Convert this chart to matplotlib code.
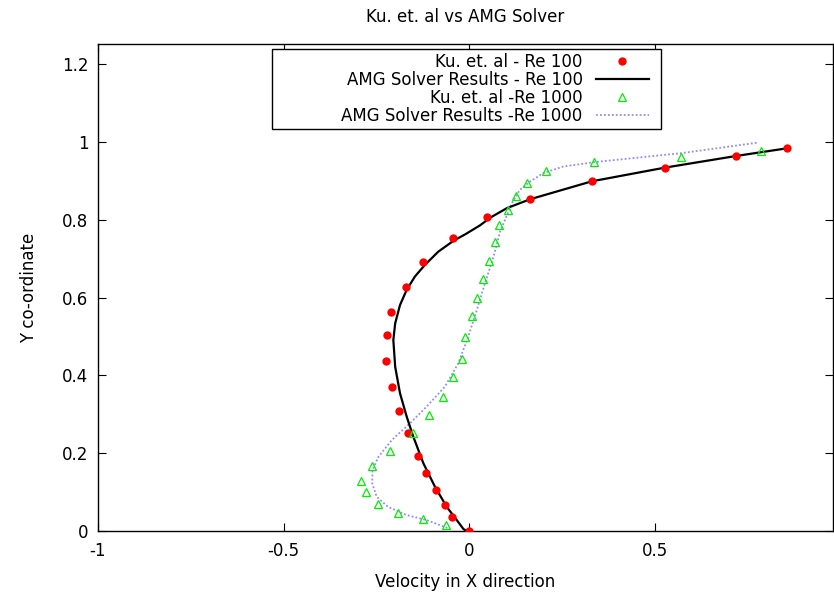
import matplotlib
matplotlib.use("Agg")
import matplotlib.pyplot as plt
from matplotlib.patches import Rectangle

plt.rcParams['font.family'] = ['DejaVu Sans']

# Ku et al. reference points, Re 100
ku100_u = [0.858, 0.719, 0.527, 0.331, 0.165, 0.049, -0.042, -0.123, -0.171, -0.210,
           -0.222, -0.225, -0.208, -0.189, -0.165, -0.138, -0.115, -0.088, -0.065, -0.047, 0.0]
ku100_y = [0.984, 0.964, 0.934, 0.899, 0.853, 0.808, 0.754, 0.692, 0.628, 0.562,
           0.503, 0.436, 0.369, 0.308, 0.252, 0.193, 0.149, 0.105, 0.068, 0.037, 0.0]

# AMG solver, Re 100
amg100_u = [0.858, 0.719, 0.527, 0.331, 0.165, 0.102, 0.058, 0.030, -0.008, -0.042,
            -0.083, -0.119, -0.146, -0.168, -0.186, -0.199, -0.204, -0.199, -0.186,
            -0.168, -0.150, -0.123, -0.092, -0.060, -0.033, -0.015, -0.006]
amg100_y = [0.984, 0.964, 0.934, 0.899, 0.853, 0.830, 0.806, 0.786, 0.764, 0.746,
            0.718, 0.684, 0.654, 0.620, 0.581, 0.534, 0.491, 0.422, 0.354,
            0.294, 0.242, 0.174, 0.114, 0.062, 0.028, 0.005, 0.0]

# Ku et al. reference points, Re 1000
ku1000_u = [0.787, 0.572, 0.338, 0.208, 0.155, 0.126, 0.104, 0.081, 0.069, 0.053, 0.037,
            0.022, 0.009, -0.011, -0.018, -0.042, -0.069, -0.107, -0.151, -0.213,
            -0.262, -0.291, -0.278, -0.244, -0.191, -0.124, -0.063]
ku1000_y = [0.976, 0.961, 0.948, 0.926, 0.894, 0.862, 0.824, 0.787, 0.744, 0.695, 0.649,
            0.598, 0.552, 0.498, 0.443, 0.395, 0.344, 0.297, 0.251, 0.206,
            0.167, 0.129, 0.099, 0.069, 0.045, 0.030, 0.015]

# AMG solver, Re 1000
amg1000_u = [0.775, 0.569, 0.344, 0.254, 0.200, 0.164, 0.137, 0.115, 0.097, 0.084, 0.066,
             0.043, 0.021, -0.002, -0.029, -0.065, -0.114, -0.159, -0.208, -0.244,
             -0.260, -0.261, -0.249, -0.218, -0.168, -0.114, -0.078, -0.056]
amg1000_y = [0.998, 0.971, 0.949, 0.937, 0.920, 0.898, 0.877, 0.842, 0.800, 0.770, 0.705,
             0.637, 0.568, 0.500, 0.431, 0.371, 0.320, 0.277, 0.234, 0.191,
             0.157, 0.123, 0.088, 0.062, 0.041, 0.028, 0.015, 0.007]

fig = plt.figure(figsize=(8.34, 5.95), dpi=100)
ax = fig.add_axes([98 / 834, 64 / 595, 735 / 834, 487 / 595])

ax.plot(ku100_u, ku100_y, 'o', color='red', markersize=6, markeredgewidth=0,
        label='Ku. et. al - Re 100', zorder=4)
ax.plot(amg100_u, amg100_y, '-', color='black', linewidth=1.6,
        label='AMG Solver Results - Re 100', zorder=3)
ax.plot(ku1000_u, ku1000_y, '^', color='#00ee00', markerfacecolor='none', markersize=6,
        markeredgewidth=0.9, linestyle='none', label='Ku. et. al -Re 1000', zorder=5)
ax.plot(amg1000_u, amg1000_y, color='#8c8cff', linewidth=1.3, linestyle=(0, (1, 1.2)),
        label='AMG Solver Results -Re 1000', zorder=2)

ax.set_xlim(-1, 0.981)
ax.set_ylim(0, 1.252)
ax.set_xticks([-1, -0.5, 0, 0.5])
ax.set_xticklabels(['-1', '-0.5', '0', '0.5'])
ax.set_yticks([0, 0.2, 0.4, 0.6, 0.8, 1.0, 1.2])
ax.set_yticklabels(['0', '0.2', '0.4', '0.6', '0.8', '1', '1.2'])
ax.tick_params(direction='in', length=6, width=0.8, top=True, right=True, labelsize=12)
ax.tick_params(axis='x', pad=8)
ax.tick_params(axis='y', pad=7)
for s in ax.spines.values():
    s.set_linewidth(1.0)

ax.set_title('Ku. et. al vs AMG Solver', fontsize=12, pad=16)
ax.set_xlabel('Velocity in X direction', fontsize=12, labelpad=9)
ax.set_ylabel('Y co-ordinate', fontsize=12, labelpad=17)

ax.add_patch(Rectangle((0.237, 0.825), 0.529, 0.165, transform=ax.transAxes,
                       fill=True, facecolor='white', edgecolor='black',
                       linewidth=1.0, zorder=6))
leg = ax.legend(loc='upper right', bbox_to_anchor=(0.7497, 0.9815), frameon=False,
                markerfirst=False, fontsize=12, handlelength=3.2, handletextpad=0.78,
                labelspacing=0.0, borderpad=0, borderaxespad=0)
leg.set_zorder(7)

fig.savefig('out.png', dpi=100)
